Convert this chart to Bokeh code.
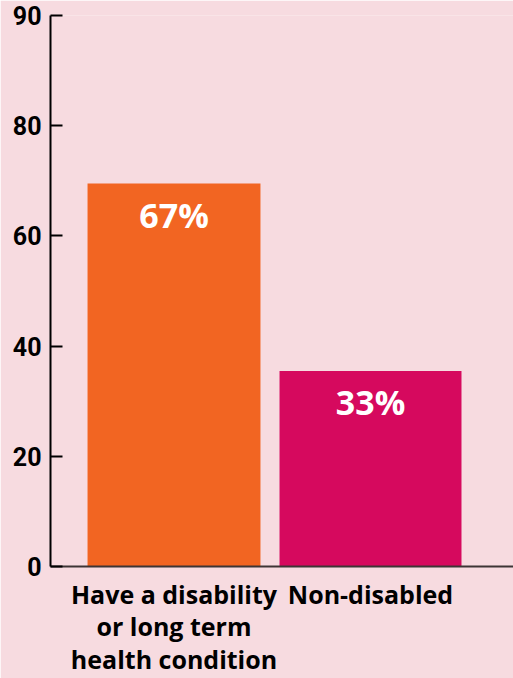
from bokeh.plotting import figure
from bokeh.models import ColumnDataSource, Range1d, FixedTicker
from bokeh.embed import file_html
from bokeh.resources import INLINE
from bokeh.core.properties import value

# ---- data ----
categories = ["Have a disability\nor long term\nhealth condition", "Non-disabled"]
positions = [0, 1]
bar_values = [69.5, 35.5]
bar_labels = ["67%", "33%"]
bar_colors = ["#f26522", "#d6095e"]
bar_widths = [0.88, 0.926]
y_ticks = [0, 20, 40, 60, 80, 100]
y_tick_labels = ["0", "20", "40", "60", "80", "90"]

BG = "#f7dbe0"
FONT = "Open Sans"

source = ColumnDataSource(dict(x=positions, top=bar_values, label=bar_labels,
                               color=bar_colors, width=bar_widths))

p = figure(width=513, height=678, output_backend="svg", toolbar_location=None,
           x_range=Range1d(-0.6285, 1.7277), y_range=Range1d(0, 100),
           min_border_left=50, min_border_right=0, min_border_top=15,
           min_border_bottom=109)
p.background_fill_color = BG
p.border_fill_color = BG
p.outline_line_color = None
p.xgrid.visible = False
p.ygrid.visible = False

p.vbar(x="x", top="top", width="width", bottom=0, color="color", source=source,
       line_color=None)
p.text(x="x", y="top", text="label", source=source, text_color="white",
       text_font=value(FONT), text_font_style="bold", text_font_size="34px",
       text_align="center", text_baseline="middle", y_offset=31)

# y axis
ya = p.yaxis[0]
ya.ticker = FixedTicker(ticks=y_ticks)
ya.major_label_overrides = {t: l for t, l in zip(y_ticks, y_tick_labels)}
ya.axis_line_width = 2
ya.axis_line_color = "black"
ya.major_tick_line_width = 2
ya.major_tick_line_color = "black"
ya.major_tick_in = 12
ya.major_tick_out = 0
ya.minor_tick_line_color = None
ya.major_label_standoff = 9
ya.major_label_text_font = "Roboto"
ya.major_label_text_font_style = "bold"
ya.major_label_text_font_size = "25px"
ya.major_label_text_color = "black"

# x axis
xa = p.xaxis[0]
xa.ticker = FixedTicker(ticks=positions)
xa.major_label_overrides = {t: c for t, c in zip(positions, categories)}
xa.axis_line_width = 2
xa.axis_line_color = "#3d3535"
xa.major_tick_line_color = None
xa.minor_tick_line_color = None
xa.major_tick_in = 0
xa.major_tick_out = 0
xa.major_label_standoff = 10
xa.major_label_text_font = FONT
xa.major_label_text_font_style = "bold"
xa.major_label_text_font_size = "25px"
xa.major_label_text_color = "black"
xa.major_label_text_line_height = 0.96

open("out.html", "w").write(file_html(p, INLINE))
